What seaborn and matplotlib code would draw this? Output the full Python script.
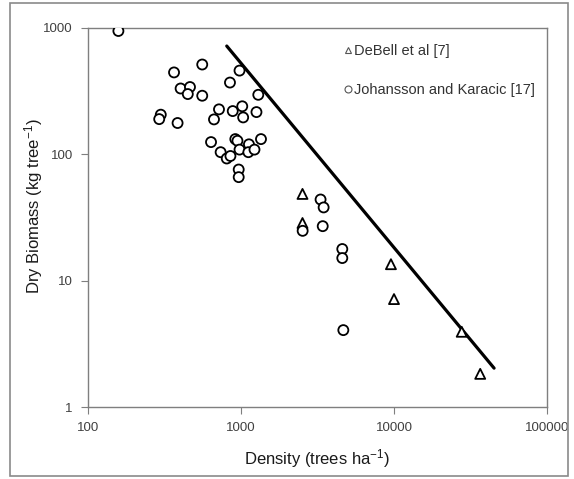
import numpy as np
import pandas as pd
import matplotlib
matplotlib.use("Agg")
import matplotlib.pyplot as plt
from matplotlib.lines import Line2D
from matplotlib.patches import Rectangle
import seaborn as sns

# --- data ---
jk_density = [158, 558, 365, 978, 847, 403, 464, 449, 558, 1297, 718, 883, 1019,
              1033, 1262, 666, 299, 292, 385, 637, 918, 948, 1127, 1351, 736, 807,
              853, 978, 1117, 1225, 966, 966,
              3312, 3468, 2529, 3421, 4592, 4592, 4665]
jk_biomass = [947, 514, 445, 460, 370, 332, 341, 300, 291, 296, 227, 220, 240,
              196, 216, 189, 206, 190, 177, 125, 132, 128, 120, 132, 104, 92.7,
              97, 109, 104, 109, 75.8, 66,
              43.9, 38, 24.8, 27, 17.8, 15.1, 4.06]
db_density = [2523, 2523, 9550, 10000, 27700, 36600]
db_biomass = [48.6, 28.6, 13.5, 7.15, 3.94, 1.83]
line_density = [807, 45100]
line_biomass = [720, 2.03]
series_names = ["DeBell et al [7]", "Johansson and Karacic [17]"]
x_ticks = [100, 1000, 10000, 100000]
y_ticks = [1, 10, 100, 1000]

sns.set_style("white")
plt.rcParams["font.family"] = ["Liberation Sans", "DejaVu Sans"]
plt.rcParams["mathtext.fontset"] = "custom"
plt.rcParams["mathtext.rm"] = "Liberation Sans"
plt.rcParams["mathtext.default"] = "regular"

df = pd.DataFrame({
    "density": db_density + jk_density,
    "biomass": db_biomass + jk_biomass,
    "source": [series_names[0]] * len(db_density) + [series_names[1]] * len(jk_density),
})
line_df = pd.DataFrame({"density": line_density, "biomass": line_biomass})

fig = plt.figure(figsize=(5.74, 4.79), dpi=100)
ax = fig.add_axes([88 / 574, 1 - 407 / 479, 459 / 574, 379 / 479])

sns.lineplot(data=line_df, x="density", y="biomass", color="black", lw=2.3, ax=ax)
sns.scatterplot(data=df, x="density", y="biomass", style="source",
                markers={series_names[0]: "^", series_names[1]: "o"},
                s=52, facecolor="white", edgecolor="black", linewidth=1.3,
                legend=False, ax=ax, zorder=3)

ax.set_xscale("log")
ax.set_yscale("log")
ax.set_xlim(100, 100000)
ax.set_ylim(1, 1000)
ax.set_xticks(x_ticks)
ax.set_xticklabels([str(v) for v in x_ticks])
ax.set_yticks(y_ticks)
ax.set_yticklabels([str(v) for v in y_ticks])
ax.minorticks_off()
ax.tick_params(axis="both", which="major", direction="out", length=5, width=0.8,
               color="#7f7f7f", labelsize=9.5, labelcolor="#404040", pad=6,
               bottom=True, left=True)
for sp in ax.spines.values():
    sp.set_color("#7f7f7f")
    sp.set_linewidth(1.0)

ax.set_xlabel("Density (trees ha$^{-1}$)", fontsize=12, color="#1a1a1a", labelpad=9)
ax.set_ylabel("Dry Biomass (kg tree$^{-1}$)", fontsize=12, color="#1a1a1a")
ax.yaxis.set_label_coords(-0.093, 0.53)

handles = [
    Line2D([], [], marker="^", ls="none", markersize=5, markerfacecolor="white",
           markeredgecolor="#555555", markeredgewidth=0.8),
    Line2D([], [], marker="o", ls="none", markersize=5, markerfacecolor="white",
           markeredgecolor="#555555", markeredgewidth=0.8),
]
leg = ax.legend(handles, series_names, loc="upper left", bbox_to_anchor=(0.558, 0.957),
                frameon=False, fontsize=10.5, handlelength=0.5, handletextpad=0.15,
                labelspacing=1.7, borderpad=0, borderaxespad=0)
for t in leg.get_texts():
    t.set_color("#333333")

fig.patches.append(Rectangle((10 / 574, 3 / 479), 558 / 574, 473 / 479,
                             transform=fig.transFigure, fill=False,
                             edgecolor="#8a8a8a", linewidth=1.2))

fig.savefig("out.png", dpi=100, facecolor="white")
